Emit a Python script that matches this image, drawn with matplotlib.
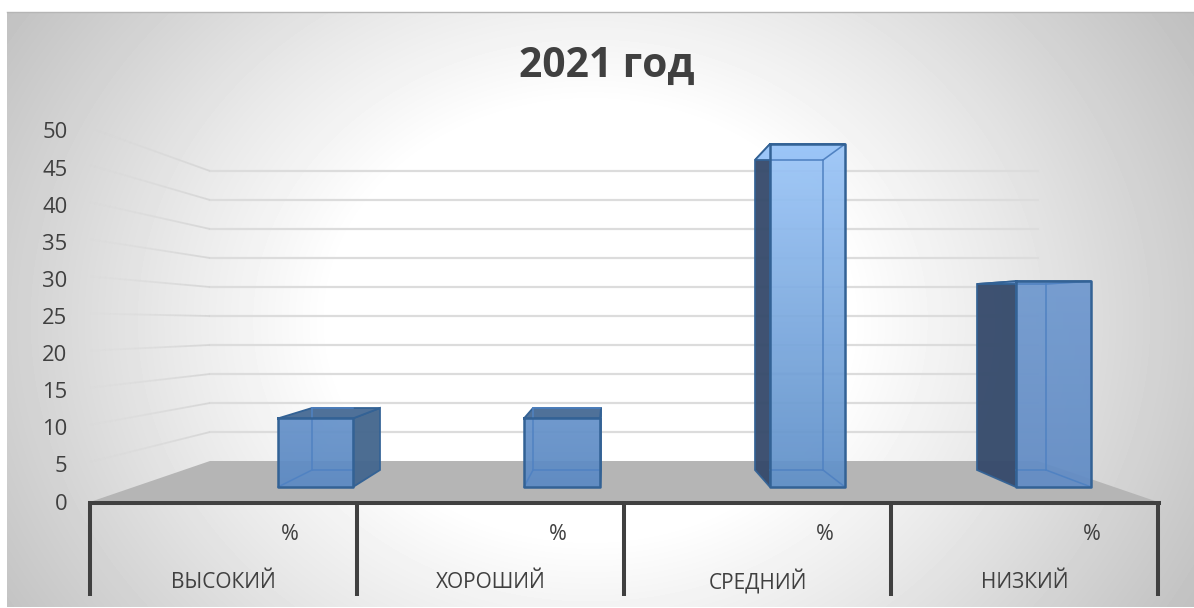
import numpy as np
import matplotlib
matplotlib.use('Agg')
import matplotlib.pyplot as plt
from matplotlib.patches import Polygon
from matplotlib.collections import LineCollection
from matplotlib.colors import LinearSegmentedColormap

# Datos
categorias = ['ВЫСОКИЙ', 'ХОРОШИЙ', 'СРЕДНИЙ', 'НИЗКИЙ']
unidades = ['%', '%', '%', '%']
valores = [10, 10, 50, 30]
ticks = [0, 5, 10, 15, 20, 25, 30, 35, 40, 45, 50]

W, H = 1194, 608
plt.rcParams['font.family'] = ['Open Sans', 'DejaVu Sans']

fig = plt.figure(figsize=(W / 100, H / 100), dpi=100)
ax = fig.add_axes([0, 0, 1, 1])
ax.axis('off')

# Fondo con degradado radial
yy, xx = np.mgrid[12:607, 7:W]
r = np.hypot(xx - 590, (yy - 320) * 1.2)
gris = np.interp(r, [0, 260, 330, 420, 540, 700], [255, 255, 245, 233, 215, 192]) / 255
ax.imshow(gris, extent=(7, W, 607, 12), cmap='gray', vmin=0, vmax=1, zorder=0, aspect='auto')
ax.plot([7, W], [12, 12], color='#b5b5b5', lw=1, zorder=1)


# Escalas de la pared del fondo, del borde frontal y de las barras
def y_pared(v):
    return 461 - v * 5.8


def y_frente(v):
    return 502 - v * 7.42


def y_barra(v):
    return 487 - v * 6.86


def y_barra_fondo(v):
    return 470 - v * 6.2


# Suelo
ax.add_patch(Polygon([(90, 502), (210, 461), (1038, 461), (1158, 502)], fc='#b5b5b5', ec='none', zorder=2))

# Lineas de la pared y de la pared lateral (se desvanecen hacia la izquierda)
for v in ticks[1:]:
    ax.plot([210, 1038], [y_pared(v), y_pared(v)], color='#dcdcdc', lw=1.6, zorder=2)
    xs = np.linspace(210, 90, 25)
    ys = np.linspace(y_pared(v), y_frente(v) - 3, 25)
    segs = [[(xs[i], ys[i]), (xs[i + 1], ys[i + 1])] for i in range(24)]
    cols = [(0.84, 0.84, 0.84, a) for a in np.linspace(0.95, 0.05, 24)]
    ax.add_collection(LineCollection(segs, colors=cols, linewidths=1.3, zorder=2))

# Geometria de las barras: x frontal y x del fondo
x_frente = [(278, 353), (524, 600), (770, 845), (1016, 1091)]
x_fondo = [(312, 380), (533, 601), (755, 823), (977, 1046)]
arriba = ['#6692ca', '#6692ca', '#9cc6f8', '#7099cf']
abajo = ['#5c8ac3', '#5c8ac3', '#6090c8', '#628cc5']
borde = '#336295'
borde_claro = '#5082c2'

grad = np.linspace(0, 1, 256).reshape(-1, 1)

for i, v in enumerate(valores):
    x0, x1 = x_frente[i]
    b0, b1 = x_fondo[i]
    yf_top, yf_base = y_barra(v), y_barra(0)
    yb_top, yb_base = y_barra_fondo(v), y_barra_fondo(0)

    # cara lateral visible
    if b0 < x0:
        ax.add_patch(Polygon([(b0, yb_top), (x0, yf_top), (x0, yf_base), (b0, yb_base)],
                             fc='#34496a', ec=borde, lw=1.3, alpha=0.95, zorder=3))
    if b1 > x1:
        ax.add_patch(Polygon([(x1, yf_top), (b1, yb_top), (b1, yb_base), (x1, yf_base)],
                             fc='#46688f', ec=borde, lw=1.3, alpha=0.97, zorder=3))

    # cara superior
    color_sup = '#4f7199' if yb_top < yf_top else arriba[i]
    ax.add_patch(Polygon([(x0, yf_top), (b0, yb_top), (b1, yb_top), (x1, yf_top)],
                         fc=color_sup, ec=borde, lw=1.3, zorder=3))

    # cara frontal con degradado recortado
    poly = Polygon([(x0, yf_top), (x1, yf_top), (x1, yf_base), (x0, yf_base)], fc='none', ec='none')
    ax.add_patch(poly)
    cmap_frente = LinearSegmentedColormap.from_list('frente', [arriba[i], abajo[i]])
    im = ax.imshow(grad, extent=(x0, x1, yf_base, yf_top), cmap=cmap_frente, vmin=0, vmax=1,
                   aspect='auto', alpha=0.94, zorder=4)
    im.set_clip_path(poly)

    # aristas interiores del fondo, solo dentro de la cara frontal
    izq = max(b0, x0)
    der = min(b1, x1)
    ax.plot([izq, der], [yb_top, yb_top], color=borde_claro, lw=1.1, zorder=5)
    ax.plot([izq, der], [yb_base, yb_base], color=borde_claro, lw=1.1, zorder=5)
    if b0 > x0:
        ax.plot([b0, b0], [yb_top, yb_base], color=borde_claro, lw=1.1, zorder=5)
        ax.plot([x0, b0], [yf_base, yb_base], color=borde_claro, lw=1.1, zorder=5)
    if b1 < x1:
        ax.plot([b1, b1], [yb_top, yb_base], color=borde_claro, lw=1.1, zorder=5)
        ax.plot([x1, b1], [yf_base, yb_base], color=borde_claro, lw=1.1, zorder=5)
        ax.plot([x1, b1], [yf_top, yb_top], color=borde_claro, lw=1.1, zorder=5)
    ax.plot([x0, x1, x1, x0, x0], [yf_top, yf_top, yf_base, yf_base, yf_top], color=borde, lw=1.8, zorder=6)

# Ejes de la tabla de categorias
ax.plot([88, 1161], [503, 503], color='#404040', lw=2.9, zorder=7, solid_capstyle='butt')
for x in [90, 357, 624, 891, 1158]:
    ax.plot([x, x], [503, 596], color='#404040', lw=2.9, zorder=7, solid_capstyle='butt')

# Textos
color_texto = '#404040'
ax.text(607, 66, '2021 год', fontsize=29.3, fontweight='bold', color=color_texto, ha='center', va='center')
for v in ticks:
    ax.text(67.5, y_frente(v) + 2, str(v), fontsize=15.8, color=color_texto, ha='right', va='center')
for x, u in zip([289.5, 557.5, 824.5, 1091.5], unidades):
    ax.text(x, 535, u, fontsize=15.5, color=color_texto, ha='center', va='center')
for x, c in zip([223, 490.5, 757.5, 1025], categorias):
    ax.text(x, 582, c, fontsize=15, color=color_texto, ha='center', va='center')

ax.set_xlim(0, W)
ax.set_ylim(H, 0)
fig.savefig('out.png', dpi=100)
